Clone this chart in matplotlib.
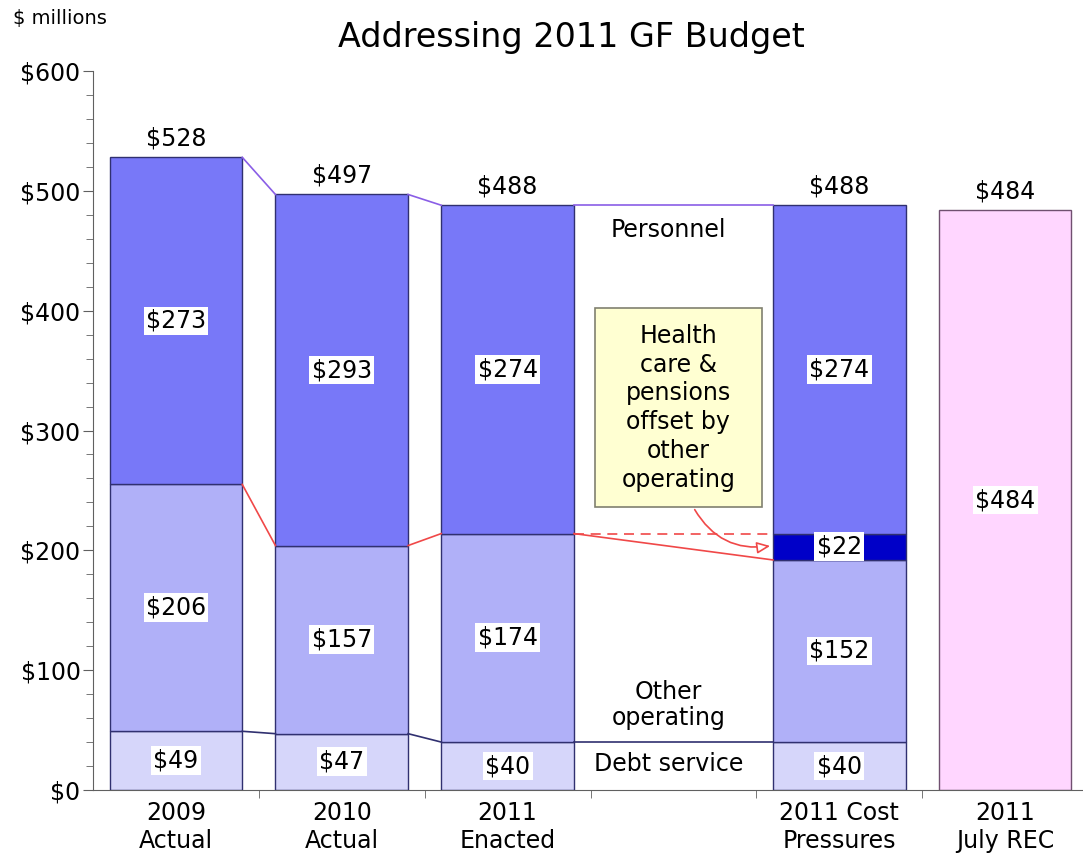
import matplotlib
matplotlib.use('Agg')
import matplotlib.pyplot as plt
from matplotlib.patches import Rectangle
from matplotlib.ticker import MultipleLocator, FixedLocator

# Data ($ millions)
categories = ['2009\nActual', '2010\nActual', '2011\nEnacted', '', '2011 Cost\nPressures', '2011\nJuly REC']
debt_service = [49, 47, 40, None, 40, None]
other_operating = [206, 157, 174, None, 152, None]
health_offset = [None, None, None, None, 22, None]
personnel = [273, 293, 274, None, 274, None]
july_rec = 484
totals = [528, 497, 488, None, 488, 484]

c_pers = '#7878f8'
c_other = '#b0b0f8'
c_debt = '#d6d6fa'
c_dark = '#0000c8'
c_pink = '#ffd6ff'
c_edge = '#303070'
c_top = '#8a5ee6'
c_red = '#f04848'

fs = 17

fig = plt.figure(figsize=(10.83, 8.6), dpi=100)
ax = fig.add_axes([0.0859, 0.0814, 0.9187, 0.836])

width = 0.8
lbl = dict(ha='center', va='center', fontsize=fs,
           bbox=dict(boxstyle='square,pad=0.1', fc='white', ec='none'))

for i in range(len(categories)):
    if debt_service[i] is None:
        continue
    bottom = 0
    segs = [(debt_service[i], c_debt), (other_operating[i], c_other)]
    if health_offset[i] is not None:
        segs.append((health_offset[i], c_dark))
    segs.append((personnel[i], c_pers))
    for val, col in segs:
        ax.bar(i, val, width, bottom=bottom, color=col, edgecolor=c_edge, linewidth=1)
        ax.text(i, bottom + val / 2, f'${val}', **lbl)
        bottom += val

# July REC
ax.bar(5, july_rec, width, color=c_pink, edgecolor='#705070', linewidth=1)
ax.text(5, july_rec / 2, f'${july_rec}', **lbl)

for i, t in enumerate(totals):
    if t is not None:
        ax.annotate(f'${t}', (i, t), xytext=(0, 5), textcoords='offset points',
                    ha='center', va='bottom', fontsize=fs)

# connector lines between bars
bars = [0, 1, 2, 4]
for a, b in zip(bars[:-1], bars[1:]):
    x0, x1 = a + width / 2, b - width / 2
    ax.plot([x0, x1], [totals[a], totals[b]], color=c_top, lw=1.2)
    ax.plot([x0, x1], [debt_service[a], debt_service[b]], color=c_edge, lw=1.2)
    y0 = debt_service[a] + other_operating[a]
    y1 = debt_service[b] + other_operating[b]
    ax.plot([x0, x1], [y0, y1], color=c_red, lw=1.2)
# dashed line to top of the health-care block
y_en = debt_service[2] + other_operating[2]
ax.plot([2 + width / 2, 4 - width / 2], [y_en, y_en], color=c_red, lw=1.2, ls=(0, (6, 4)))

# series labels in the blank slot
ax.text(2.97, 467, 'Personnel', ha='center', va='center', fontsize=fs)
ax.text(2.97, 71, 'Other\noperating', ha='center', va='center', fontsize=fs, linespacing=1.1)
ax.text(2.97, 22, 'Debt service', ha='center', va='center', fontsize=fs)

# note box with curved arrow
ax.add_patch(Rectangle((2.53, 236), 1.005, 166, fc='#ffffd2', ec='#808070', lw=1.2, zorder=3))
ax.text(3.03, 319, 'Health\ncare &\npensions\noffset by\nother\noperating',
        ha='center', va='center', fontsize=fs, linespacing=1.25, zorder=4)
ax.annotate('', xy=(4 - width / 2, 204), xytext=(3.12, 236),
            arrowprops=dict(arrowstyle='-|>,head_length=0.8,head_width=0.35', fc='white',
                            ec=c_red, lw=1.2, connectionstyle='arc3,rad=0.35'))

ax.set_xlim(-0.5, 5.5)
ax.set_ylim(0, 600)
ax.yaxis.set_major_locator(MultipleLocator(100))
ax.yaxis.set_minor_locator(MultipleLocator(20))
ax.set_yticklabels([f'${int(v)}' for v in ax.get_yticks()])
ax.set_xticks(range(len(categories)))
ax.set_xticklabels(categories, linespacing=1.2)
ax.xaxis.set_minor_locator(FixedLocator([0.5, 1.5, 2.5, 3.5, 4.5]))
ax.tick_params(axis='x', which='major', length=0, labelsize=fs, pad=8)
ax.tick_params(axis='x', which='minor', length=6, color='#606060')
ax.tick_params(axis='y', which='major', length=7, labelsize=fs, color='#606060', pad=2)
ax.tick_params(axis='y', which='minor', length=5, color='#606060')

for s in ['top', 'right']:
    ax.spines[s].set_visible(False)
for s in ['left', 'bottom']:
    ax.spines[s].set_color('#606060')

fig.text(0.528, 0.956, 'Addressing 2011 GF Budget', ha='center', va='center', fontsize=24)
fig.text(0.012, 0.99, '$ millions', ha='left', va='top', fontsize=14)

plt.savefig('out.png', dpi=100)
plt.close()
